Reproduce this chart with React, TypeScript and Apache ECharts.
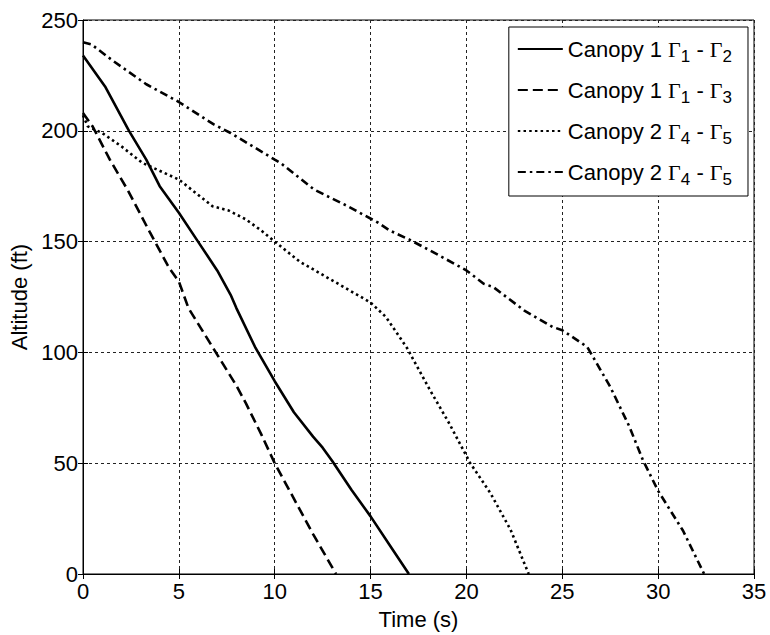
import React, { useEffect, useRef } from "react";
import * as echarts from "echarts";

// Canopy 1 Γ1 - Γ2 (solid)
const s1Time = [0, 1.15, 2.4, 3.3, 4, 5, 6, 7, 7.7, 8, 9, 10, 11, 12, 12.5, 13, 14, 15, 16, 17];
const s1Alt = [234, 220, 200, 187, 175, 163, 150, 137, 126, 120, 102, 87, 73, 62, 57, 51, 38, 26, 13, 0];

// Canopy 1 Γ1 - Γ3 (dashed)
const s2Time = [0, 0.5, 1.4, 2.35, 3.5, 4.5, 5, 5.5, 6, 7, 8, 8.5, 9.3, 10, 11, 12, 13, 13.2];
const s2Alt = [208, 202, 187, 173, 154, 138, 132, 120, 113, 99, 85, 77, 63, 50, 34, 18, 3, 0];

// Canopy 2 Γ4 - Γ5 (dotted)
const s3Time = [0, 0.25, 1, 2, 3.1, 5, 6.75, 7.6, 8.5, 9.3, 10, 11.3, 13.2, 15, 15.8, 16.9, 18.1, 19.1, 20.2, 21.25, 22.3, 23.25];
const s3Alt = [207, 202, 199, 193, 185.5, 178, 166, 164, 160, 155, 150, 141, 131.5, 122.5, 116, 102, 83, 68, 50, 36.5, 20, 0];

// Canopy 2 Γ4 - Γ5 (dash-dot)
const s4Time = [0, 0.44, 1.5, 3.3, 5, 6.8, 7.7, 10, 10.3, 12.05, 13.8, 15.4, 16, 17, 18.1, 20, 20.9, 21.4, 23, 24.5, 25, 26.3, 26.6, 27.5, 28.5, 29.2, 30, 31.3, 32.4];
const s4Alt = [240, 239, 232, 221, 213, 203, 199, 187, 185.5, 173.5, 166, 158.5, 155, 151, 146, 137, 131, 129.5, 119, 111.5, 110, 102.5, 98, 84.5, 66.5, 51.5, 37.5, 19.5, 0];

const xTicks = [0, 5, 10, 15, 20, 25, 30, 35];
const yTicks = [0, 50, 100, 150, 200, 250];

const seriesIds = ["c1g12", "c1g13", "c2g45a", "c2g45b"];
const legendLabels = [
  "Canopy 1 {g|Γ}{sub|1} - {g|Γ}{sub|2}",
  "Canopy 1 {g|Γ}{sub|1} - {g|Γ}{sub|3}",
  "Canopy 2 {g|Γ}{sub|4} - {g|Γ}{sub|5}",
  "Canopy 2 {g|Γ}{sub|4} - {g|Γ}{sub|5}",
];

const zip = (t: number[], v: number[]) => t.map((x, i) => [x, v[i]]);

export default function App() {
  const ref = useRef<HTMLDivElement>(null);
  useEffect(() => {
    if (!ref.current) return;
    const chart = echarts.init(ref.current, undefined, { renderer: "svg" });
    const font = "'Liberation Sans', Arial, sans-serif";
    const lw = 2.6;
    const dashTypes: any[] = ["solid", [10, 5], [2.5, 3.2], [8, 4, 2.5, 4]];
    const datas = [zip(s1Time, s1Alt), zip(s2Time, s2Alt), zip(s3Time, s3Alt), zip(s4Time, s4Alt)];
    const gridLine = { show: true, lineStyle: { color: "#222", width: 1, type: [3, 3] as any } };
    chart.setOption({
      animation: false,
      backgroundColor: "#fff",
      textStyle: { fontFamily: font },
      grid: {
        left: 83,
        right: 16,
        top: 20,
        bottom: 61,
        show: true,
        borderColor: "#000",
        borderWidth: 1,
        backgroundColor: "transparent",
      },
      legend: {
        orient: "vertical",
        right: 22,
        top: 27,
        padding: [7, 16, 8, 8],
        itemGap: 10,
        itemWidth: 45,
        itemHeight: 28,
        backgroundColor: "#fff",
        borderColor: "#000",
        borderWidth: 1,
        borderRadius: 0,
        itemStyle: { opacity: 0 },
        data: seriesIds,
        formatter: (name: string) => legendLabels[seriesIds.indexOf(name)],
        textStyle: {
          fontFamily: font,
          fontSize: 22,
          color: "#000",
          lineHeight: 30,
          rich: {
            g: { fontFamily: "'Liberation Serif', 'Times New Roman', serif", fontSize: 22, color: "#000", lineHeight: 30 },
            sub: { fontFamily: font, fontSize: 17, color: "#000", lineHeight: 14, padding: [14, 0, 0, 0], verticalAlign: "top" },
          },
        },
      },
      xAxis: [
        {
          type: "value",
          min: 0,
          max: 35,
          interval: 5,
          name: "Time (s)",
          nameLocation: "middle",
          nameGap: 34,
          nameTextStyle: { fontFamily: font, fontSize: 22, color: "#000" },
          axisLine: { show: true, onZero: false, lineStyle: { color: "#000", width: 1 } },
          axisTick: { show: true, inside: true, length: 5, lineStyle: { color: "#000" } },
          axisLabel: {
            fontFamily: font,
            fontSize: 22,
            color: "#000",
            margin: 6,
            formatter: (v: number) => (xTicks.includes(v) ? String(v) : ""),
          },
          splitLine: gridLine,
        },
        {
          type: "value",
          position: "top",
          min: 0,
          max: 35,
          interval: 5,
          axisLine: { show: false },
          axisTick: { show: true, inside: true, length: 5, lineStyle: { color: "#000" } },
          axisLabel: { show: false },
          splitLine: { show: false },
        },
      ],
      yAxis: [
        {
          type: "value",
          min: 0,
          max: 250,
          interval: 50,
          name: "Altitude (ft)",
          nameLocation: "middle",
          nameGap: 50,
          nameTextStyle: { fontFamily: font, fontSize: 22, color: "#000" },
          axisLine: { show: true, onZero: false, lineStyle: { color: "#000", width: 1 } },
          axisTick: { show: true, inside: true, length: 5, lineStyle: { color: "#000" } },
          axisLabel: {
            fontFamily: font,
            fontSize: 22,
            color: "#000",
            margin: 5,
            formatter: (v: number) => (yTicks.includes(v) ? String(v) : ""),
          },
          splitLine: gridLine,
        },
        {
          type: "value",
          position: "right",
          min: 0,
          max: 250,
          interval: 50,
          axisLine: { show: false },
          axisTick: { show: true, inside: true, length: 5, lineStyle: { color: "#000" } },
          axisLabel: { show: false },
          splitLine: { show: false },
        },
      ],
      series: seriesIds.map((id, i) => ({
        name: id,
        type: "line",
        data: datas[i],
        showSymbol: false,
        symbol: "none",
        smooth: false,
        color: "#000",
        lineStyle: { color: "#000", width: lw, type: dashTypes[i] },
        z: 3,
      })),
    });
    return () => chart.dispose();
  }, []);
  return (
    <div
      ref={ref}
      style={{ position: "fixed", left: 0, top: 0, width: 770, height: 635, background: "#fff" }}
    />
  );
}
